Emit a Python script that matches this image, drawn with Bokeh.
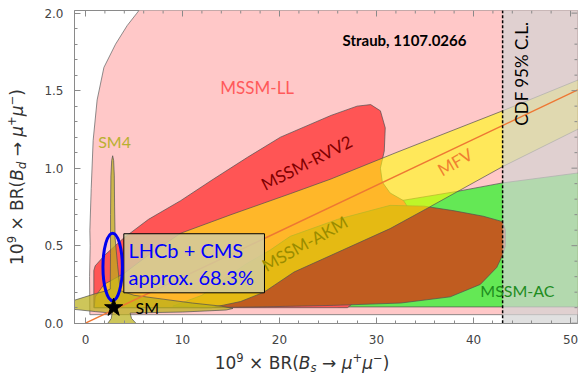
import math
from bokeh.plotting import figure
from bokeh.models import Range1d, Label, SingleIntervalTicker, PrintfTickFormatter, Div
from bokeh.layouts import row, column
from bokeh.embed import file_html
from bokeh.resources import INLINE

# ---------------- data ----------------
x_ticks_interval = 10
y_ticks_interval = 0.5
x_major_ticks = [0, 10, 20, 30, 40, 50]
x_minor_ticks = [2, 4, 6, 8, 12, 14, 16, 18, 22, 24, 26, 28, 32, 34, 36, 38, 42, 44, 46, 48]
y_major_ticks = [0.0, 0.5, 1.0, 1.5, 2.0]
y_minor_ticks = [0.1, 0.2, 0.3, 0.4, 0.6, 0.7, 0.8, 0.9, 1.1, 1.2, 1.3, 1.4, 1.6, 1.7, 1.8, 1.9]
cdf_limit = 43.0

pink_x = [0.45, 0.42, 0.48, 0.45, 0.59, 0.79, 1.2, 1.9, 3.1, 4.3, 5.3, 6.5, 60, 60]
pink_y = [0.055, 0.3, 0.5, 0.6, 0.87, 1.18, 1.44, 1.65, 1.80, 1.92, 2.0, 2.1, 2.1, 0.055]

green_x = [26.0, 32.5, 38.3, 43.0, 51.5, 51.5, 26.0]
green_y = [0.40, 0.79, 0.85, 0.905, 0.975, 0.105, 0.105]

red_x = [0.86, 0.86, 1.0, 2.0, 3.95, 6.5, 9.8, 13.2, 16.7, 20.1, 25.3, 28.0, 29.4, 30.4,
         30.9, 30.8, 30.4, 30.6, 31.4, 32.8, 33.5, 31.0, 28.0, 27.0]
red_y = [0.10, 0.34, 0.37, 0.44, 0.55, 0.67, 0.79, 0.93, 1.07, 1.20, 1.34, 1.40, 1.41, 1.37,
         1.26, 1.11, 1.00, 0.91, 0.84, 0.79, 0.72, 0.40, 0.15, 0.10]

brown_x = [9.0, 12.0, 14.0, 16.5, 19.0, 21.1, 26.0, 31.4, 34.9, 38.0, 41.0, 43.0, 43.3, 43.3,
           43.0, 42.4, 40.7, 37.6, 32.5, 25.6, 18.0, 12.0]
brown_y = [0.11, 0.18, 0.27, 0.38, 0.47, 0.56, 0.67, 0.76, 0.755, 0.725, 0.69, 0.655, 0.60, 0.50,
           0.44, 0.36, 0.25, 0.17, 0.13, 0.115, 0.105, 0.10]

mfvband_x = [0.9, 1.0, 1.9, 3.95, 6.5, 9.8, 12.4, 15.0, 21.1, 25.3, 32.0, 43.0, 52.0,
             52.0, 43.0, 35.2, 31.4, 21.5, 18.4, 16.0, 13.0]
mfvband_y = [0.10, 0.17, 0.25, 0.32, 0.44, 0.58, 0.64, 0.70, 0.835, 0.93, 1.10, 1.37, 1.60,
             1.29, 1.01, 0.74, 0.61, 0.33, 0.20, 0.14, 0.10]

sm4_x = [-1.3, 1.0, 2.2, 2.55, 2.58, 2.58, 2.62, 2.7, 2.8, 2.9, 2.97, 3.0, 3.05, 3.3, 3.5, 3.6,
         5.0, 8.0, 11.0, 14.0, 15.2, 14.5, 10.0, 6.4, 4.6, 4.75, 5.2, 5.2, 2.0, 2.3, 2.65, 2.75,
         1.0, -1.3]
sm4_y = [0.145, 0.19, 0.21, 0.22, 0.45, 0.7, 0.95, 1.05, 1.08, 1.05, 0.95, 0.75, 0.55, 0.38, 0.26, 0.21,
         0.18, 0.155, 0.13, 0.11, 0.095, 0.085, 0.072, 0.068, 0.065, 0.03, 0.0, -0.05, -0.05, 0.0, 0.03, 0.065,
         0.075, 0.09]

mfv_line_x = [0.0, 52.0]
mfv_line_y = [0.0, 1.542]

sm_x = [2.9]
sm_y = [0.10]

lhc_center = (2.8, 0.363)
lhc_size = (2.0, 0.435)
box_l, box_r, box_b, box_t = 3.95, 18.45, 0.196, 0.577

x_title = "10<sup>9</sup> × BR(<i>B<sub>s</sub></i> → <i>μ</i><sup>+</sup><i>μ</i><sup>−</sup>)"
y_title = "10<sup>9</sup> × BR(<i>B<sub>d</sub></i> → <i>μ</i><sup>+</sup><i>μ</i><sup>−</sup>)"

# ---------------- figure ----------------
YDIV_W = 26
XDIV_H = 24
X0, X1 = -1.134, 50.72
Y0, Y1 = -0.002, 2.017
W, H = 579 - YDIV_W, 376 - XDIV_H
BL, BR, BT, BB = 48, 2, 10, 29
p = figure(width=W, height=H, x_range=Range1d(X0, X1), y_range=Range1d(Y0, Y1),
           output_backend="svg", toolbar_location=None,
           min_border_left=BL, min_border_right=BR, min_border_top=BT, min_border_bottom=BB)
p.grid.visible = False
axcol = "#8a8a8a"
p.outline_line_color = axcol
p.outline_line_width = 1
p.background_fill_color = "white"

px_x = (W - BL - BR) / (X1 - X0)   # pixels per x unit
px_y = (H - BT - BB) / (Y1 - Y0)   # pixels per y unit

def style_axis(ax):
    ax.axis_line_color = axcol
    ax.major_tick_line_color = axcol
    ax.minor_tick_line_color = axcol
    ax.major_tick_in = 6
    ax.major_tick_out = 0
    ax.minor_tick_in = 3
    ax.minor_tick_out = 0
    ax.major_label_text_font = "DejaVu Sans"
    ax.major_label_text_font_size = "12px"
    ax.major_label_text_color = "#444444"

p.xaxis.ticker = SingleIntervalTicker(interval=x_ticks_interval, num_minor_ticks=5)
p.yaxis.ticker = SingleIntervalTicker(interval=y_ticks_interval, num_minor_ticks=5)
p.yaxis.formatter = PrintfTickFormatter(format="%.1f")
style_axis(p.xaxis[0])
style_axis(p.yaxis[0])
p.yaxis.major_label_standoff = 11
p.xaxis.major_label_standoff = 11

edge = "#505050"
p.patch(pink_x, pink_y, fill_color="#FFC8C8", line_color="#707070", line_width=0.8)
p.patch(green_x, green_y, fill_color="#64E855", line_color=edge, line_width=0.7)
p.patch(red_x, red_y, fill_color="#FF5555", line_color=edge, line_width=0.7)
p.patch(brown_x, brown_y, fill_color="#C05C20", line_color=edge, line_width=0.7)
p.patch(mfvband_x, mfvband_y, fill_color="#FFFF0B", fill_alpha=0.58, line_color=edge, line_width=0.7)
p.patch(sm4_x, sm4_y, fill_color="#BAB01A", fill_alpha=0.72, line_color=edge, line_width=0.7)

# CDF exclusion
p.quad(left=[cdf_limit], right=[60], bottom=[-1], top=[3], fill_color="#D3D3D3", fill_alpha=0.71, line_color=None)
p.line(mfv_line_x, mfv_line_y, line_color="#EE7733", line_width=1.5)
p.line([cdf_limit, cdf_limit], [-1, 3], line_color="black", line_width=1.5, line_dash="3 2")

# mirrored ticks on top and right frame edges
p.segment(x0=x_major_ticks, y0=[Y1] * len(x_major_ticks), x1=x_major_ticks,
          y1=[Y1 - 6 / px_y] * len(x_major_ticks), line_color=axcol, line_width=1)
p.segment(x0=x_minor_ticks, y0=[Y1] * len(x_minor_ticks), x1=x_minor_ticks,
          y1=[Y1 - 3 / px_y] * len(x_minor_ticks), line_color=axcol, line_width=1)
p.segment(x0=[X1] * len(y_major_ticks), y0=y_major_ticks, x1=[X1 - 6 / px_x] * len(y_major_ticks),
          y1=y_major_ticks, line_color=axcol, line_width=1)
p.segment(x0=[X1] * len(y_minor_ticks), y0=y_minor_ticks, x1=[X1 - 3 / px_x] * len(y_minor_ticks),
          y1=y_minor_ticks, line_color=axcol, line_width=1)

# LHCb + CMS box and ellipse
p.quad(left=[box_l], right=[box_r], bottom=[box_b], top=[box_t], fill_color="#D2CBA0", fill_alpha=0.85,
       line_color="black", line_width=1)
p.ellipse(x=[lhc_center[0]], y=[lhc_center[1]], width=[lhc_size[0]], height=[lhc_size[1]],
          fill_color=None, line_color="#0000EE", line_width=3)
p.scatter(sm_x, sm_y, marker="star", size=19, fill_color="black", line_color="black")

def lab(x, y, text, size, color, font="Lato", align="left", baseline="middle", angle=0.0, style="normal"):
    p.add_layout(Label(x=x, y=y, text=text, text_font=font, text_font_size=f"{size}px",
                       text_color=color, text_align=align, text_baseline=baseline,
                       angle=angle, text_font_style=style))

lab(26.5, 1.824, "Straub, 1107.0266", 15, "black", style="bold")
lab(17.7, 1.52, "MSSM-LL", 17, "#FF5A5A", align="center")
lab(3.0, 1.17, "SM4", 16, "#B8B030", align="center")
lab(22.8, 1.036, "MSSM-RVV2", 17, "#800000", align="center", angle=math.radians(27))
lab(38.1, 1.04, "MFV", 17, "#F08030", align="center", angle=math.radians(30))
lab(22.6, 0.514, "MSSM-AKM", 17, "#9A8C00", align="center", angle=math.radians(29))
lab(40.7, 0.21, "MSSM-AC", 16, "#1E8C1E")
lab(44.95, 1.61, "CDF 95% C.L.", 17, "black", align="center", angle=math.pi / 2)
lab(5.15, 0.10, "SM", 16, "black")
lab(4.43, 0.475, "LHCb + CMS", 20, "#0000FF")
lab(4.43, 0.295, "approx. 68.3%", 20, "#0000FF")

# ---------------- axis titles as real HTML text (with sub/superscripts) ----------------
span_css = ("position:absolute; white-space:nowrap; font-family:'DejaVu Sans'; font-size:17px; "
            "color:#333333; line-height:1;")
sub_css = "<style>sup,sub{font-size:68%;line-height:0;} sup{vertical-align:0.55em;} sub{vertical-align:-0.3em;}</style>"
xdiv = Div(width=W, height=XDIV_H, margin=0,
           text=sub_css + f'<div style="position:relative;width:{W}px;height:{XDIV_H}px;">'
                f'<span style="{span_css} left:{302 - YDIV_W}px; top:11px; transform:translate(-50%,-50%);">'
                f'{x_title}</span></div>')
ydiv = Div(width=YDIV_W, height=376, margin=0,
           text=sub_css + f'<div style="position:relative;width:{YDIV_W}px;height:376px;">'
                f'<span style="{span_css} left:17px; top:177px; transform:translate(-50%,-50%) rotate(-90deg);">'
                f'{y_title}</span></div>')

layout = row(ydiv, column(p, xdiv, spacing=0), spacing=0)
open("out.html", "w").write(file_html(layout, INLINE))
